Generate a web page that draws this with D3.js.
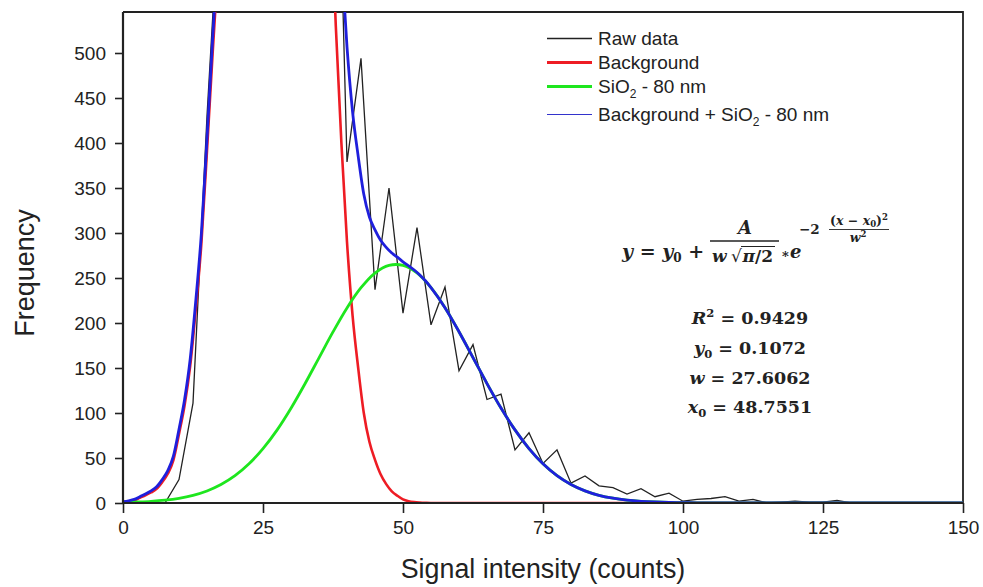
<!DOCTYPE html>
<html>
<head>
<meta charset="utf-8">
<script src="https://cdn.jsdelivr.net/npm/d3@7"></script>
<style>
  html, body { margin: 0; padding: 0; background: #fff; }
  svg { display: block; }
  .tick text { font-family: "Liberation Sans", Arial, sans-serif; }
  .eq { font-family: "DejaVu Serif", "Liberation Serif", serif; font-weight: bold; fill: #222; }
</style>
</head>
<body>
<svg id="chart" width="983" height="587"></svg>
<script>
// ---------------- data ----------------
const xTicks = [0, 25, 50, 75, 100, 125, 150];
const yTicks = [0, 50, 100, 150, 200, 250, 300, 350, 400, 450, 500];

// Raw histogram (bins every 2.5 counts); off-scale values in the main peak are estimates
const rawX = [0, 2.5, 5, 7.5, 10, 12.5, 15, 17.5, 20, 22.5, 25, 27.5, 30, 32.5, 35, 37.5,
  40, 42.5, 45, 47.5, 50, 52.5, 55, 57.5, 60, 62.5, 65, 67.5, 70, 72.5, 75, 77.5, 80,
  82.5, 85, 87.5, 90, 92.5, 95, 97.5, 100, 102.5, 105, 107.5, 110, 112.5, 115, 117.5,
  120, 122.5, 125, 127.5, 130];
const rawY = [0, 0, 0, 0, 26, 111, 430, 700, 1300, 1800, 2000, 2000, 1800, 1500, 1200, 970,
  379, 494, 237, 350, 211, 306, 198, 240, 147, 176, 115, 121, 59, 78, 44, 59, 22,
  30, 19, 17, 10, 16, 7, 11, 2, 4, 5, 7, 2, 4, 0, 1,
  2, 1, 1, 3, 0];

// Background fit (red)
const bgX = [0, 1, 2, 3, 4, 5, 6, 7, 8, 9, 10, 11, 12, 13, 14, 15, 16, 17, 18,
  20, 22.5, 25, 27.5, 30, 32.5, 35,
  36, 37, 38, 39, 40, 41, 42, 43, 44, 45, 46, 47, 48, 49, 50, 51, 52, 53, 54, 55, 60, 150];
const bgY = [0.9, 1.7, 3.0, 5.8, 8.5, 11.7, 15.7, 23.2, 32.5, 47.7, 76.8, 108.6, 152.3, 215.7, 288.8, 391.6, 499, 601, 718,
  950, 1250, 1400, 1450, 1400, 1250, 1000,
  850, 690, 530, 400, 290, 208, 150, 100, 68, 48, 32, 21, 13, 8, 4, 2, 1, 0.5, 0.2, 0, 0, 0];

// SiO2 - 80 nm Gaussian (green)
const sioX = [0, 2.5, 5, 7.5, 10, 12.5, 15, 17.5, 20, 22.5, 25, 27.5, 30, 32.5, 35, 37.5,
  40, 42.5, 45, 47.5, 50, 52.5, 55, 57.5, 60, 62.5, 65, 67.5, 70, 72.5, 75, 77.5, 80,
  82.5, 85, 87.5, 90, 92.5, 95, 97.5, 100, 102.5, 105, 107.5, 110, 112.5, 115, 117.5,
  120, 122.5, 125, 127.5, 130, 132.5, 135, 137.5, 140, 142.5, 145, 147.5, 150];
const sioY = [0.6, 1.1, 1.8, 3.1, 5.2, 8.5, 13.4, 20.5, 30.3, 43.5, 60.4, 81.0, 105.3, 132.5, 161.3, 190.1,
  216.8, 239.2, 255.5, 264.0, 264.0, 255.6, 239.3, 217.0, 190.3, 161.6, 132.7, 105.5, 81.2, 60.5, 43.6, 30.4, 20.6,
  13.5, 8.5, 5.3, 3.2, 1.9, 1.1, 0.6, 0.4, 0.1, 0.1, 0.1, 0.1, 0.1, 0.1, 0.1,
  0.1, 0.1, 0.1, 0.1, 0.1, 0.1, 0.1, 0.1, 0.1, 0.1, 0.1, 0.1, 0.1];

// Background + SiO2 - 80 nm (blue)
const sumX = [0, 1, 2, 3, 4, 5, 6, 7, 8, 9, 10, 11, 12, 13, 14, 15, 16, 17, 18,
  20, 22.5, 25, 27.5, 30, 32.5, 35,
  36, 37, 38, 39, 40, 41, 42, 43, 44, 45, 46, 47, 48, 49, 50, 51, 52, 53, 54, 55,
  57.5, 60, 62.5, 65, 67.5, 70, 72.5, 75, 77.5, 80, 82.5, 85, 87.5, 90, 92.5, 95, 97.5, 100,
  102.5, 105, 107.5, 110, 112.5, 115, 117.5, 120, 122.5, 125, 127.5, 130, 132.5, 135, 137.5, 140, 142.5, 145, 147.5, 150];
const sumY = [1.5, 2.5, 4.0, 7.0, 10.0, 13.5, 18.0, 26.0, 36.0, 52.0, 82.0, 115.0, 160.0, 225.0, 300.0, 405.0, 515.0, 620.0, 740.0,
  980, 1294, 1460, 1531, 1505, 1383, 1161,
  1023, 874.5, 725.6, 606.5, 506.8, 434.4, 385.2, 343.0, 317.8, 303.5, 291.9, 284.0, 277.7, 273.1, 268.0, 263.6, 258.9, 253.4, 246.9, 239.3,
  217.0, 190.3, 161.6, 132.7, 105.5, 81.2, 60.5, 43.6, 30.4, 20.6, 13.5, 8.5, 5.3, 3.2, 1.9, 1.1, 0.6, 0.4,
  0.1, 0.1, 0.1, 0.1, 0.1, 0.1, 0.1, 0.1, 0.1, 0.1, 0.1, 0.1, 0.1, 0.1, 0.1, 0.1, 0.1, 0.1, 0.1, 0.1];

const legendLabels = ["Raw data", "Background", "SiO|2| - 80 nm", "Background + SiO|2| - 80 nm"];
const fitStats = [
  ["R", "2", " = 0.9429", "sup"],
  ["y", "0", " = 0.1072", "sub"],
  ["w", "", " = 27.6062", ""],
  ["x", "0", " = 48.7551", "sub"]
];

// ---------------- layout ----------------
const svg = d3.select("#chart");
const L = 123, R = 963, T = 12, B = 503;
const x = d3.scaleLinear().domain([0, 150]).range([L, R]);
const y = d3.scaleLinear().domain([0, (B - T) / 0.9]).range([B, T]);

const COL = { raw: "#222222", bg: "#ee1c24", sio: "#1ee61e", sum: "#1f1fdc" };

svg.append("defs").append("clipPath").attr("id", "plotclip")
  .append("rect").attr("x", L).attr("y", T).attr("width", R - L).attr("height", B - T);

// frame (top/right)
svg.append("path").attr("d", `M${L},${T}H${R}V${B}`).attr("fill", "none")
  .attr("stroke", "#222").attr("stroke-width", 1.8);

const g = svg.append("g").attr("clip-path", "url(#plotclip)");
const mk = (xs, ys) => xs.map((v, i) => [v, ys[i]]);

const lineLin = d3.line().x(d => x(d[0])).y(d => y(d[1]));
const lineMono = d3.line().x(d => x(d[0])).y(d => y(d[1])).curve(d3.curveMonotoneX);
const lineCR = d3.line().x(d => x(d[0])).y(d => y(d[1])).curve(d3.curveCatmullRom.alpha(0.5));

g.append("path").attr("d", lineLin(mk(rawX, rawY))).attr("fill", "none")
  .attr("stroke", COL.raw).attr("stroke-width", 1.3).attr("stroke-linejoin", "miter");
g.append("path").attr("d", lineMono(mk(bgX, bgY))).attr("fill", "none")
  .attr("stroke", COL.bg).attr("stroke-width", 2.6);
g.append("path").attr("d", lineCR(mk(sioX, sioY))).attr("fill", "none")
  .attr("stroke", COL.sio).attr("stroke-width", 2.8);
g.append("path").attr("d", lineMono(mk(sumX, sumY))).attr("fill", "none")
  .attr("stroke", COL.sum).attr("stroke-width", 2.8);

// axes
const xAxis = svg.append("g").attr("transform", `translate(0,${B})`)
  .call(d3.axisBottom(x).tickValues(xTicks).tickSize(10).tickPadding(8).tickFormat(d3.format("d")));
const yAxis = svg.append("g").attr("transform", `translate(${L},0)`)
  .call(d3.axisLeft(y).tickValues(yTicks).tickSize(8).tickPadding(9).tickFormat(d3.format("d")));
[xAxis, yAxis].forEach(a => {
  a.select(".domain").attr("stroke", "#222").attr("stroke-width", 2.2);
  a.selectAll(".tick line").attr("stroke", "#222").attr("stroke-width", 1.6);
  a.selectAll(".tick text").attr("fill", "#222").style("font-size", "19px");
});
yAxis.select(".domain").attr("d", `M0,${B}V${T}`);
xAxis.select(".domain").attr("d", `M${L},0H${R}`);

// axis titles
svg.append("text").attr("x", 543).attr("y", 578).attr("text-anchor", "middle")
  .style("font-family", "Liberation Sans, Arial, sans-serif").style("font-size", "26.8px").attr("fill", "#222")
  .text("Signal intensity (counts)");
svg.append("text").attr("transform", "translate(34,273) rotate(-90)").attr("text-anchor", "middle")
  .style("font-family", "Liberation Sans, Arial, sans-serif").style("font-size", "27px").attr("fill", "#222")
  .text("Frequency");

// legend
const legRows = [38.5, 62.5, 86.5, 114.5];
const legStyle = [[COL.raw, 1.3], [COL.bg, 2.8], [COL.sio, 2.8], ["#3333cc", 1.1]];
legendLabels.forEach((lab, i) => {
  const yy = legRows[i];
  svg.append("line").attr("x1", 547).attr("x2", 592).attr("y1", yy).attr("y2", yy)
    .attr("stroke", legStyle[i][0]).attr("stroke-width", legStyle[i][1]);
  const t = svg.append("text").attr("x", 598).attr("y", yy + 6.5)
    .style("font-family", "Liberation Sans, Arial, sans-serif").style("font-size", "19px").attr("fill", "#222");
  lab.split("|").forEach((part, j) => {
    if (j % 2 === 1) t.append("tspan").attr("dy", 5).style("font-size", "12px").text(part);
    else t.append("tspan").attr("dy", j === 0 ? 0 : -5).text(part);
  });
});

// formula
const eq = svg.append("g").attr("class", "eq");
const eqT = eq.append("text").attr("x", 622).attr("y", 258).style("font-size", "19px").style("font-style", "italic");
eqT.append("tspan").text("y");
eqT.append("tspan").style("font-style", "normal").text(" = ");
eqT.append("tspan").text("y");
eqT.append("tspan").attr("dy", 4).style("font-size", "12px").style("font-style", "normal").text("0");
eqT.append("tspan").attr("dy", -4).style("font-style", "normal").text(" +");
// fraction
eq.append("line").attr("x1", 710).attr("x2", 779).attr("y1", 241).attr("y2", 241).attr("stroke", "#222").attr("stroke-width", 1.3);
eq.append("text").attr("x", 745).attr("y", 234).attr("text-anchor", "middle").style("font-size", "18px").style("font-style", "italic").text("A");
const denW = eq.append("text").attr("x", 712).attr("y", 262).style("font-size", "17px").style("font-style", "italic").text("w");
const xRad = 712 + denW.node().getBBox().width + 3;
const denR = eq.append("text").attr("x", xRad).attr("y", 262).style("font-size", "17px").style("font-weight", "normal").text("√");
const xPi = xRad + denR.node().getBBox().width + 0.5;
const denB = eq.append("text").attr("x", xPi).attr("y", 262).style("font-size", "17px");
denB.append("tspan").style("font-style", "italic").text("π");
denB.append("tspan").style("font-style", "normal").text("/2");
const wB = denB.node().getBBox().width;
eq.append("line").attr("x1", xPi - 1.5).attr("x2", xPi + wB + 1).attr("y1", 246.5).attr("y2", 246.5)
  .attr("stroke", "#222").attr("stroke-width", 1.1);
eq.append("text").attr("x", 782).attr("y", 261).style("font-size", "13px").style("font-style", "normal").text("*");
eq.append("text").attr("x", 790).attr("y", 258).style("font-size", "18px").style("font-style", "italic").text("e");
eq.append("text").attr("x", 799).attr("y", 234).style("font-size", "13.5px").style("font-style", "normal").text("−2");
const expN = eq.append("text").attr("x", 859).attr("y", 225).attr("text-anchor", "middle").style("font-size", "12.5px");
expN.append("tspan").style("font-style", "normal").text("(");
expN.append("tspan").style("font-style", "italic").text("x");
expN.append("tspan").style("font-style", "normal").text(" − ");
expN.append("tspan").style("font-style", "italic").text("x");
expN.append("tspan").attr("dy", 2).style("font-size", "8.5px").text("0");
expN.append("tspan").attr("dy", -2).style("font-style", "normal").text(")");
expN.append("tspan").attr("dy", -5).style("font-size", "8.5px").text("2");
eq.append("line").attr("x1", 829).attr("x2", 889).attr("y1", 229.5).attr("y2", 229.5).attr("stroke", "#222").attr("stroke-width", 0.9);
const expD = eq.append("text").attr("x", 858).attr("y", 241.5).attr("text-anchor", "middle").style("font-size", "12.5px");
expD.append("tspan").style("font-style", "italic").text("w");
expD.append("tspan").attr("dy", -5).style("font-size", "8.5px").text("2");

// fit statistics
const statY = [324, 354, 384, 413];
fitStats.forEach((s, i) => {
  const t = eq.append("text").attr("x", 750).attr("y", statY[i]).attr("text-anchor", "middle").style("font-size", "17.5px");
  t.append("tspan").style("font-style", "italic").text(s[0]);
  if (s[3] === "sup") {
    t.append("tspan").attr("dy", -7).style("font-size", "11.5px").text(s[1]);
    t.append("tspan").attr("dy", 7).text(s[2]);
  } else if (s[3] === "sub") {
    t.append("tspan").attr("dy", 4).style("font-size", "11.5px").text(s[1]);
    t.append("tspan").attr("dy", -4).text(s[2]);
  } else {
    t.append("tspan").text(s[2]);
  }
});
</script>
</body>
</html>
